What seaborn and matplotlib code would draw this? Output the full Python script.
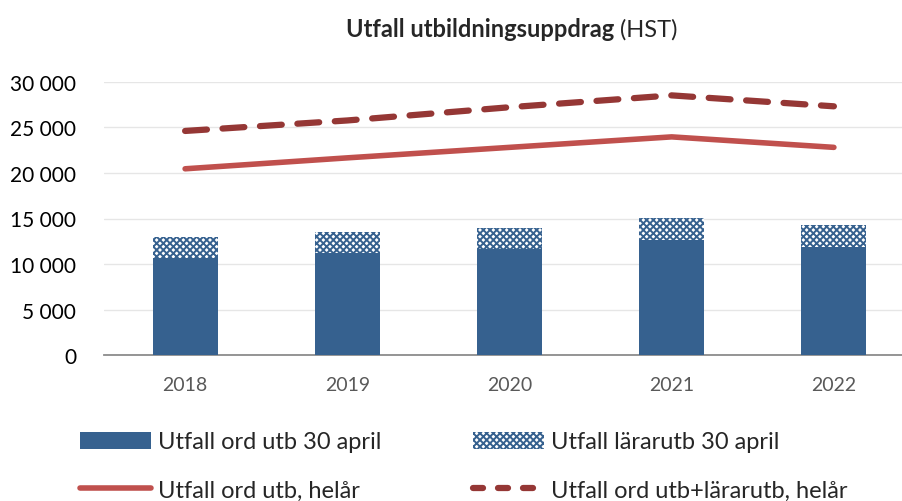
import matplotlib
matplotlib.use("Agg")
import matplotlib.pyplot as plt
import seaborn as sns
import pandas as pd
from matplotlib.lines import Line2D
from matplotlib.patches import Patch
from matplotlib.ticker import FuncFormatter

years = ["2018", "2019", "2020", "2021", "2022"]
ord_30april = [10700, 11250, 11700, 12650, 11850]
larar_30april = [2280, 2300, 2280, 2400, 2440]
ord_helar = [20450, 21650, 22800, 23950, 22800]
total_helar = [24600, 25750, 27200, 28500, 27300]

df = pd.DataFrame({"year": years, "ord": ord_30april, "larar": larar_30april,
                   "ord_helar": ord_helar, "total_helar": total_helar})

sns.set_theme(style="white")
plt.rcParams["font.family"] = ["Lato", "DejaVu Sans"]
plt.rcParams["hatch.linewidth"] = 1.4
plt.rcParams["hatch.color"] = "#36618F"

BLUE = "#36618F"
RED = "#C0504D"
DARKRED = "#953735"

fig = plt.figure(figsize=(9.03, 5.02), dpi=100)
ax = fig.add_axes([104 / 903, 1 - 356.3 / 502, (915 - 104) / 903, (356.3 - 82.7) / 502])

sns.barplot(data=df, x="year", y="ord", color=BLUE, width=0.4, ax=ax,
            saturation=1, linewidth=0, zorder=3)
sns.barplot(data=df, x="year", y="larar", bottom=df["ord"], width=0.4, ax=ax,
            color="white", saturation=1, edgecolor=BLUE, hatch="xxxxx",
            linewidth=0, zorder=3)
sns.lineplot(data=df, x="year", y="ord_helar", ax=ax, color=RED, linewidth=4,
             solid_capstyle="round", zorder=4, sort=False)
sns.lineplot(data=df, x="year", y="total_helar", ax=ax, color=DARKRED, linewidth=4.5,
             dashes=False, linestyle=(0, (3.5, 2.5)), dash_capstyle="round", zorder=4, sort=False)

ax.set_xlim(-0.5, 4.5)
ax.set_ylim(0, 30000)
ax.set_yticks(range(0, 30001, 5000))
ax.yaxis.set_major_formatter(FuncFormatter(lambda v, p: f"{int(v):,}".replace(",", " ")))
ax.grid(axis="y", color="#E6E6E6", linewidth=1, zorder=0)
ax.set_axisbelow(True)
for s in ["top", "right", "left"]:
    ax.spines[s].set_visible(False)
ax.spines["bottom"].set_color("#8C8C8C")
ax.spines["bottom"].set_linewidth(1.3)
ax.set_xlabel("")
ax.set_ylabel("")
ax.tick_params(axis="y", labelsize=15, length=0, pad=20, colors="black")
ax.tick_params(axis="x", labelsize=14, length=0, pad=15, colors="#595959")

ty = 1 - 30 / 502
fig.text(614 / 903, ty, "Utfall utbildningsuppdrag", ha="right", va="center",
         fontsize=17, fontweight="bold")
fig.text(614 / 903, ty, " (HST)", ha="left", va="center", fontsize=17)

handles = [Patch(facecolor=BLUE, edgecolor="none"),
           Patch(facecolor="white", edgecolor=BLUE, hatch="xxxxx", linewidth=0),
           Line2D([0], [0], color=RED, linewidth=4, solid_capstyle="round"),
           Line2D([0], [0], color=DARKRED, linewidth=4.5, linestyle=(0, (1.6, 2.4)),
                  dash_capstyle="round")]
labels = ["Utfall ord utb 30 april", "Utfall lärarutb 30 april",
          "Utfall ord utb, helår", "Utfall ord utb+lärarutb, helår"]
order = [0, 2, 1, 3]
fig.legend([handles[i] for i in order], [labels[i] for i in order], ncol=2,
           loc="center left", bbox_to_anchor=(80 / 903, 1 - 467 / 502), frameon=False,
           fontsize=17, handlelength=3.0, handleheight=0.75, columnspacing=3.9,
           labelspacing=1.15, handletextpad=0.3, borderpad=0, borderaxespad=0)

fig.savefig("out.png", dpi=100)
